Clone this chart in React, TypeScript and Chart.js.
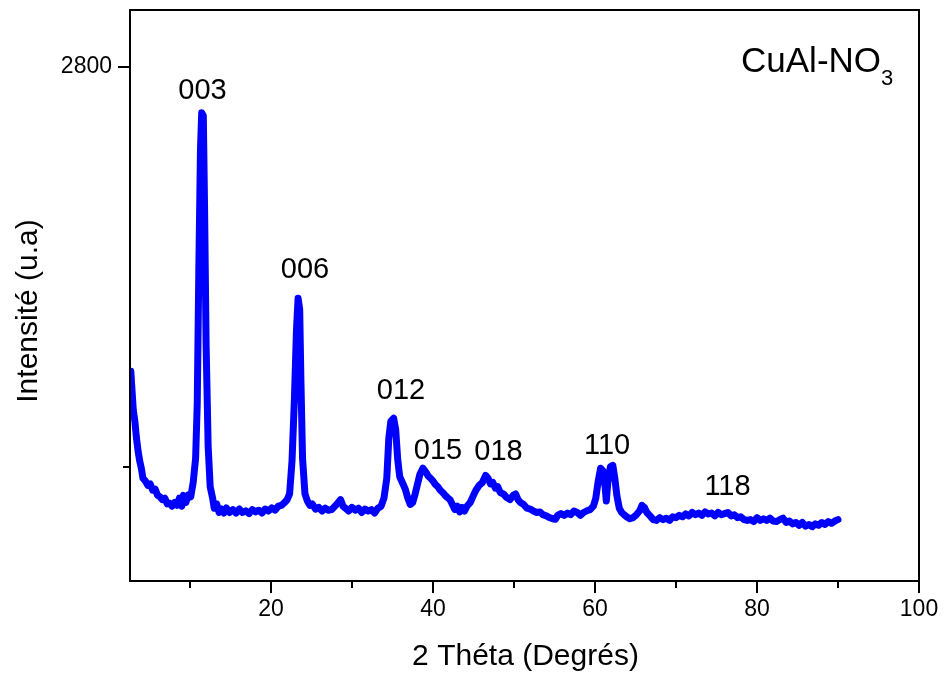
import React, { useEffect, useRef } from 'react';
import { Chart, registerables } from 'chart.js';

Chart.register(...registerables);

// ---- Data ----
const twoTheta = [
  2.7, 2.8, 3.0, 3.2, 3.4, 3.6, 3.8, 4.0, 4.2, 4.5, 4.8, 5.1, 5.4, 5.7, 6.0, 6.3, 6.6, 6.9, 7.2, 7.5,
  7.8, 8.1, 8.4, 8.7, 9.0, 9.2, 9.5, 9.8, 10.1, 10.4, 10.7, 10.9, 11.1, 11.3, 11.45, 11.65, 11.8, 12.0, 12.25, 12.5,
  12.8, 13.0, 13.3, 13.6, 13.9, 14.2, 14.5, 14.9, 15.3, 15.7, 16.1, 16.5, 16.9, 17.3, 17.7, 18.1, 18.5, 18.9, 19.3, 19.7,
  20.1, 20.5, 20.9, 21.3, 21.7, 22.0, 22.3, 22.6, 22.9, 23.15, 23.35, 23.55, 23.7, 23.9, 24.2, 24.5, 24.8, 25.1, 25.5, 25.9,
  26.3, 26.7, 27.1, 27.5, 27.9, 28.3, 28.6, 28.9, 29.2, 29.6, 30.0, 30.4, 30.8, 31.2, 31.6, 32.0, 32.4, 32.8, 33.2, 33.6,
  33.95, 34.3, 34.55, 34.8, 35.15, 35.4, 35.65, 35.9, 36.3, 36.6, 36.9, 37.2, 37.5, 37.8, 38.1, 38.4, 38.75, 39.1, 39.4, 39.7,
  40.0, 40.3, 40.6, 40.9, 41.2, 41.5, 41.8, 42.1, 42.4, 42.7, 43.0, 43.3, 43.6, 43.9, 44.2, 44.6, 45.0, 45.3, 45.7, 46.1,
  46.5, 46.8, 47.1, 47.4, 47.7, 48.0, 48.3, 48.7, 49.1, 49.5, 49.9, 50.2, 50.5, 50.8, 51.2, 51.6, 52.0, 52.4, 52.8, 53.2,
  53.6, 54.0, 54.4, 54.8, 55.1, 55.4, 55.8, 56.2, 56.6, 57.0, 57.4, 57.8, 58.2, 58.6, 59.0, 59.4, 59.8, 60.1, 60.4, 60.7,
  61.0, 61.25, 61.4, 61.6, 61.9, 62.2, 62.45, 62.7, 63.0, 63.3, 63.6, 63.9, 64.3, 64.7, 65.1, 65.5, 65.8, 66.1, 66.4, 66.8,
  67.2, 67.6, 68.0, 68.4, 68.8, 69.2, 69.6, 70.0, 70.4, 70.8, 71.2, 71.6, 72.0, 72.4, 72.8, 73.2, 73.6, 74.0, 74.4, 74.8,
  75.2, 75.6, 76.0, 76.4, 76.8, 77.2, 77.6, 78.0, 78.4, 78.8, 79.2, 79.6, 80.0, 80.4, 80.8, 81.2, 81.6, 82.0, 82.4, 82.8,
  83.2, 83.6, 84.0, 84.4, 84.8, 85.2, 85.6, 86.0, 86.4, 86.8, 87.2, 87.6, 88.0, 88.4, 88.8, 89.2, 89.6, 90.0,
];

const intensity = [
  1735, 1690, 1600, 1560, 1500, 1455, 1420, 1395, 1360, 1350, 1335, 1340, 1318, 1322, 1300, 1295, 1285, 1290, 1270, 1272,
  1262, 1275, 1265, 1290, 1262, 1300, 1275, 1302, 1295, 1345, 1430, 1620, 2100, 2510, 2640, 2630, 2320, 1820, 1470, 1330,
  1290, 1255, 1270, 1240, 1252, 1238, 1256, 1240, 1250, 1238, 1252, 1240, 1246, 1236, 1250, 1242, 1248, 1238, 1252, 1245,
  1256, 1248, 1262, 1265, 1275, 1285, 1305, 1420, 1640, 1880, 1990, 1950, 1700, 1430, 1305, 1280, 1265, 1270, 1252, 1258,
  1245, 1255, 1248, 1250, 1262, 1275, 1285, 1262, 1255, 1245, 1258, 1248, 1255, 1240, 1252, 1245, 1250, 1238, 1255, 1262,
  1290, 1360, 1500, 1560, 1570, 1530, 1425, 1365, 1340, 1320, 1290, 1268, 1275, 1305, 1340, 1375, 1395, 1382, 1368, 1360,
  1350, 1338, 1330, 1318, 1310, 1300, 1292, 1285, 1268, 1250, 1262, 1242, 1258, 1245, 1262, 1275, 1300, 1318, 1335, 1345,
  1370, 1360, 1340, 1345, 1325, 1330, 1310, 1305, 1292, 1285, 1300, 1305, 1285, 1275, 1268, 1255, 1252, 1245, 1240, 1242,
  1232, 1228, 1222, 1218, 1216, 1230, 1236, 1230, 1238, 1232, 1245, 1240, 1230, 1240, 1246, 1250, 1262, 1290, 1350, 1395,
  1385, 1330, 1280, 1350, 1400, 1405, 1360, 1300, 1255, 1240, 1232, 1225, 1218, 1222, 1232, 1245, 1265, 1258, 1240, 1228,
  1215, 1212, 1222, 1215, 1220, 1212, 1225, 1222, 1230, 1225, 1235, 1228, 1240, 1232, 1238, 1230, 1242, 1235, 1238, 1228,
  1240, 1232, 1236, 1240, 1228, 1232, 1222, 1225, 1215, 1212, 1215, 1208, 1222, 1212, 1218, 1212, 1220, 1210, 1208, 1215,
  1220, 1205, 1210, 1200, 1205, 1195, 1205, 1192, 1198, 1190, 1200, 1195, 1205, 1198, 1208, 1202, 1210, 1215,
];

const xMajorTicks = [20, 40, 60, 80, 100];
const xMinorTicks = [10, 30, 50, 70, 90];
const yMajorTicks = [2800];
const yMinorTicks = [1400];

const peakLabels = ['003', '006', '012', '015', '018', '110', '118'];
const peakLabelX = [11.55, 24.2, 36.06, 40.62, 48.09, 61.49, 76.36];
const peakLabelY = [2716, 2089, 1665, 1455, 1452, 1473, 1329];

const sampleName = 'CuAl-NO';
const sampleSub = '3';
const sampleX = 78.03;
const sampleY = 2783;

const xTitle = '2 Théta (Degrés)';
const yTitle = 'Intensité (u.a)';

const FONT = '"Liberation Sans", Arial, Helvetica, sans-serif';

const decorPlugin = {
  id: 'decor',
  afterDraw(chart: any) {
    const { ctx, chartArea, scales } = chart;
    const xs = scales.x;
    const ys = scales.y;
    ctx.save();
    ctx.strokeStyle = '#000';
    ctx.fillStyle = '#000';
    ctx.lineWidth = 2;
    ctx.lineCap = 'butt';
    // frame
    ctx.strokeRect(chartArea.left, chartArea.top, chartArea.right - chartArea.left, chartArea.bottom - chartArea.top);
    // x ticks
    ctx.beginPath();
    xMajorTicks.forEach((v) => {
      const p = Math.round(xs.getPixelForValue(v));
      ctx.moveTo(p, chartArea.bottom);
      ctx.lineTo(p, chartArea.bottom + 12);
    });
    xMinorTicks.forEach((v) => {
      const p = Math.round(xs.getPixelForValue(v));
      ctx.moveTo(p, chartArea.bottom);
      ctx.lineTo(p, chartArea.bottom + 7);
    });
    yMajorTicks.forEach((v) => {
      const p = Math.round(ys.getPixelForValue(v));
      ctx.moveTo(chartArea.left, p);
      ctx.lineTo(chartArea.left - 12, p);
    });
    yMinorTicks.forEach((v) => {
      const p = Math.round(ys.getPixelForValue(v));
      ctx.moveTo(chartArea.left, p);
      ctx.lineTo(chartArea.left - 7, p);
    });
    ctx.stroke();

    // peak labels
    ctx.font = `29px ${FONT}`;
    ctx.textAlign = 'center';
    ctx.textBaseline = 'middle';
    peakLabels.forEach((t, i) => {
      ctx.fillText(t, xs.getPixelForValue(peakLabelX[i]), ys.getPixelForValue(peakLabelY[i]));
    });

    // sample name with subscript
    ctx.textAlign = 'left';
    ctx.textBaseline = 'alphabetic';
    ctx.font = `35px ${FONT}`;
    const sx = xs.getPixelForValue(sampleX);
    const sy = ys.getPixelForValue(sampleY);
    ctx.fillText(sampleName, sx, sy);
    const w = ctx.measureText(sampleName).width;
    ctx.font = `22px ${FONT}`;
    ctx.fillText(sampleSub, sx + w, sy + 13);

    // axis titles
    ctx.font = `30px ${FONT}`;
    ctx.textAlign = 'center';
    ctx.textBaseline = 'middle';
    ctx.fillText(xTitle, (chartArea.left + chartArea.right) / 2 + 1, 657);
    ctx.save();
    ctx.translate(29, 311);
    ctx.rotate(-Math.PI / 2);
    ctx.fillText(yTitle, 0, 0);
    ctx.restore();
    ctx.restore();
  },
};

export default function App() {
  const canvasRef = useRef<HTMLCanvasElement | null>(null);

  useEffect(() => {
    const canvas = canvasRef.current;
    if (!canvas) return;
    const points = twoTheta.map((x, i) => ({ x, y: intensity[i] }));
    const chart = new Chart(canvas, {
      type: 'line',
      data: {
        datasets: [
          {
            data: points,
            borderColor: '#0000ff',
            backgroundColor: '#0000ff',
            borderWidth: 7,
            pointRadius: 0,
            tension: 0,
            borderJoinStyle: 'round',
            borderCapStyle: 'round',
            fill: false,
          },
        ],
      },
      options: {
        responsive: false,
        animation: false,
        devicePixelRatio: 1,
        layout: { padding: { top: 10, right: 30, left: 0, bottom: 0 } },
        plugins: {
          legend: { display: false },
          tooltip: { enabled: false },
        },
        scales: {
          x: {
            type: 'linear',
            min: 2.6,
            max: 100,
            grid: { display: false, drawTicks: true, tickLength: 12 },
            border: { display: false },
            afterBuildTicks: (axis: any) => {
              axis.ticks = xMajorTicks.map((v) => ({ value: v }));
            },
            afterFit: (axis: any) => {
              axis.height = 96;
              axis.paddingLeft = 0;
              axis.paddingRight = 0;
              axis.paddingTop = 0;
              axis.paddingBottom = 0;
            },
            ticks: {
              color: '#000',
              padding: 3,
              maxRotation: 0,
              autoSkip: false,
              font: { family: FONT, size: 23 },
              callback: (v: any) => String(v),
            },
          },
          y: {
            type: 'linear',
            min: 1000,
            max: 3000,
            grid: { display: false, drawTicks: true, tickLength: 12 },
            border: { display: false },
            afterBuildTicks: (axis: any) => {
              axis.ticks = yMajorTicks.map((v) => ({ value: v }));
            },
            afterFit: (axis: any) => {
              axis.width = 130;
              axis.paddingLeft = 0;
              axis.paddingRight = 0;
              axis.paddingTop = 0;
              axis.paddingBottom = 0;
            },
            ticks: {
              color: '#000',
              padding: 6,
              autoSkip: false,
              font: { family: FONT, size: 23 },
              callback: (v: any) => String(v),
            },
          },
        },
      },
      plugins: [decorPlugin],
    });
    return () => chart.destroy();
  }, []);

  return (
    <canvas
      ref={canvasRef}
      width={949}
      height={677}
      style={{ position: 'absolute', left: 0, top: 0, width: 949, height: 677, display: 'block' }}
    />
  );
}
